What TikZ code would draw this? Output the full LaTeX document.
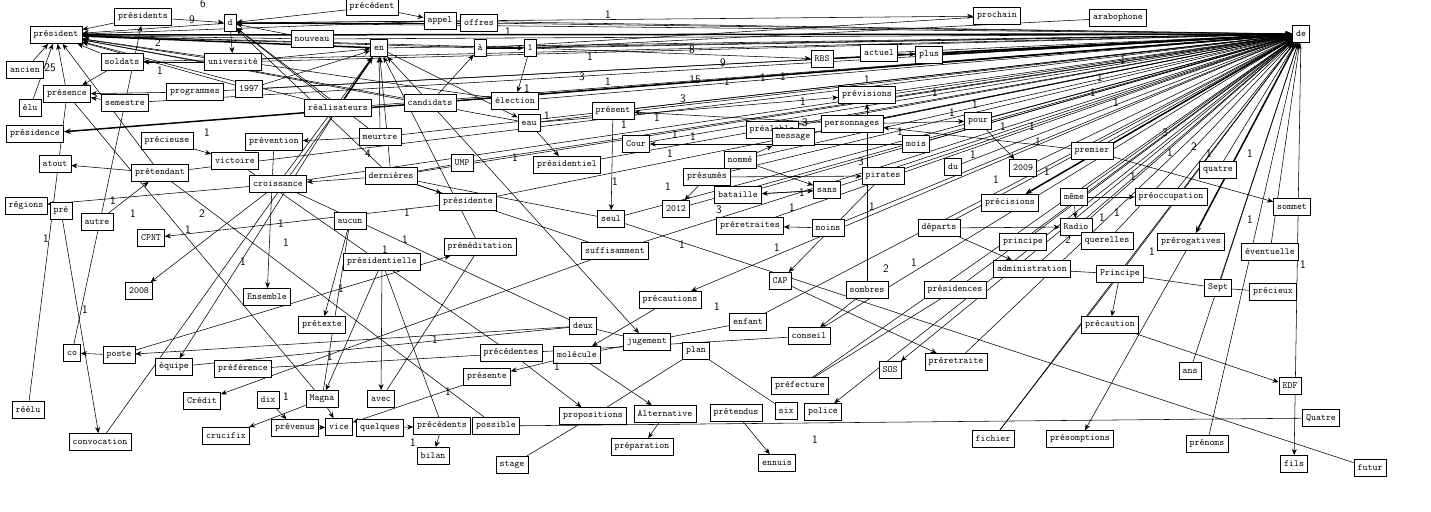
\documentclass[tikz,border=0pt]{standalone}
\usepackage{fontspec}
\usepackage{tikz}
\usetikzlibrary{arrows.meta,backgrounds}
\tikzset{
  w/.style={draw,line width=0.8pt,fill=white,font=\ttfamily\fontsize{9.5}{10}\selectfont,inner xsep=3.5pt,inner ysep=0pt,minimum height=17pt},
  ar/.style={-{Stealth[length=6pt,width=5pt]},line width=0.55pt},
  ln/.style={line width=0.55pt},
  bd/.style={-{Stealth[length=7pt,width=5.5pt]},line width=1.5pt},
  lab/.style={font=\sffamily\fontsize{11.5}{12}\selectfont,inner sep=0pt}
}
\begin{document}
\begin{tikzpicture}[x=1pt,y=-1pt]
\useasboundingbox (0,0) rectangle (1431,511);
% words, top rows
\node[w] (presidents) at (143,17) {présidents};
\node[w] (d) at (230,23) {d};
\node[w] (president) at (56,35) {président};
\node[w] (precedent) at (372,7) {précédent};
\node[w] (appel) at (440,21) {appel};
\node[w] (offres) at (479,23) {offres};
\node[w] (nouveau) at (312,39) {nouveau};
\node[w] (en) at (379,48) {en};
\node[w] (a) at (480,48) {à};
\node[w] (un) at (530,48) {1};
\node[w] (prochain) at (997,16) {prochain};
\node[w] (arabophone) at (1118,18) {arabophone};
\node[w] (de) at (1301,34) {de};
\node[w] (RBS) at (822,59) {RBS};
\node[w] (actuel) at (879,53) {actuel};
\node[w] (plus) at (929,55) {plus};
\node[w] (soldats) at (122,62) {soldats};
\node[w] (universite) at (233,62) {université};
\node[w] (ancien) at (25,70) {ancien};
\node[w] (presence) at (67,94) {présence};
\node[w] (programmes) at (195,92) {programmes};
\node[w] (n1997) at (249,89) {1997};
\node[w] (semestre) at (125,103) {semestre};
\node[w] (elu) at (30,108) {élu};
\node[w] (realisateurs) at (338,108) {réalisateurs};
\node[w] (candidats) at (430,103) {candidats};
\node[w] (election) at (515,101) {élection};
\node[w] (eau) at (529,123) {eau};
\node[w] (present) at (613,111) {présent};
\node[w] (previsions) at (867,95) {prévisions};
\node[w] (personnages) at (852,124) {personnages};
\node[w] (pour) at (978,121) {pour};
% middle rows
\node[w] (presidence) at (35,134) {présidence};
\node[w] (precieuse) at (167,141) {précieuse};
\node[w] (prevention) at (274,142) {prévention};
\node[w] (meurtre) at (380,137) {meurtre};
\node[w] (prealable) at (772,130) {préalable};
\node[w] (message) at (793,137) {message};
\node[w] (Cour) at (636,144) {Cour};
\node[w] (mois) at (916,144) {mois};
\node[w] (premier) at (1092,151) {premier};
\node[w] (victoire) at (235,161) {victoire};
\node[w] (atout) at (55,164) {atout};
\node[w] (UMP) at (462,163) {UMP};
\node[w] (presidentiel) at (567,165) {présidentiel};
\node[w] (nomme) at (740,160) {nommé};
\node[w] (du) at (953,167) {du};
\node[w] (n2009) at (1023,168) {2009};
\node[w] (quatre) at (1218,170) {quatre};
\node[w] (pretendant) at (160,173) {prétendant};
\node[w] (dernieres) at (391,176) {dernières};
\node[w] (croissance) at (278,184) {croissance};
\node[w] (presumes) at (707,177) {présumés};
\node[w] (pirates) at (883,176) {pirates};
\node[w] (sans) at (827,190) {sans};
\node[w] (bataille) at (738,195) {bataille};
\node[w] (meme) at (1074,197) {même};
\node[w] (preoccupation) at (1171,197) {préoccupation};
\node[w] (regions) at (26,206) {régions};
\node[w] (pre) at (61,211) {pré};
\node[w] (presidente) at (468,202) {présidente};
\node[w] (n2012) at (676,209) {2012};
\node[w] (precisions) at (1010,203) {précisions};
\node[w] (sommet) at (1292,207) {sommet};
\node[w] (seul) at (611,219) {seul};
\node[w] (autre) at (97,222) {autre};
\node[w] (aucun) at (350,221) {aucun};
\node[w] (preretraites) at (750,226) {préretraites};
\node[w] (moins) at (828,228) {moins};
\node[w] (departs) at (939,228) {départs};
\node[w] (Radio) at (1076,227) {Radio};
\node[w] (CPNT) at (151,238) {CPNT};
\node[w] (querelles) at (1107,241) {querelles};
\node[w] (principe) at (1023,242) {principe};
\node[w] (prerogatives) at (1191,242) {prérogatives};
\node[w] (premeditation) at (480,247) {préméditation};
\node[w] (suffisamment) at (615,251) {suffisamment};
\node[w] (eventuelle) at (1270,252) {éventuelle};
\node[w] (presidentielle) at (382,262) {présidentielle};
\node[w] (administration) at (1032,269) {administration};
\node[w] (Principe) at (1120,274) {Principe};
\node[w] (CAP) at (780,281) {CAP};
\node[w] (sombres) at (867,290) {sombres};
\node[w] (presidences) at (955,290) {présidences};
\node[w] (Sept) at (1218,288) {Sept};
\node[w] (precieux) at (1273,292) {précieux};
\node[w] (n2008) at (139,291) {2008};
\node[w] (Ensemble) at (267,297) {Ensemble};
\node[w] (precautions) at (670,300) {précautions};
% lower rows
\node[w] (enfant) at (748,322) {enfant};
\node[w] (pretexte) at (322,325) {prétexte};
\node[w] (deux) at (583,326) {deux};
\node[w] (precaution) at (1110,325) {précaution};
\node[w] (conseil) at (809,336) {conseil};
\node[w] (jugement) at (647,342) {jugement};
\node[w] (plan) at (696,351) {plan};
\node[w] (co) at (72,353) {co};
\node[w] (poste) at (119,355) {poste};
\node[w] (precedentes) at (511,353) {précédentes};
\node[w] (molecule) at (577,355) {molécule};
\node[w] (equipe) at (174,367) {équipe};
\node[w] (preference) at (243,369) {préférence};
\node[w] (SOS) at (890,370) {SOS};
\node[w] (preretraite) at (956,362) {préretraite};
\node[w] (ans) at (1190,371) {ans};
\node[w] (presente) at (487,377) {présente};
\node[w] (prefecture) at (800,386) {préfecture};
\node[w] (EDF) at (1290,386) {EDF};
\node[w] (Credit) at (202,401) {Crédit};
\node[w] (dix) at (268,400) {dix};
\node[w] (Magna) at (322,399) {Magna};
\node[w] (avec) at (381,399) {avec};
\node[w] (reelu) at (28,410) {réélu};
\node[w] (prevenus) at (295,428) {prévenus};
\node[w] (vice) at (339,427) {vice};
\node[w] (quelques) at (380,428) {quelques};
\node[w] (precedents) at (442,426) {précédents};
\node[w] (possible) at (496,426) {possible};
\node[w] (propositions) at (593,416) {propositions};
\node[w] (Alternative) at (665,414) {Alternative};
\node[w] (pretendus) at (736,413) {prétendus};
\node[w] (six) at (786,411) {six};
\node[w] (police) at (823,412) {police};
\node[w] (Quatre) at (1321,418) {Quatre};
\node[w] (crucifix) at (226,436) {crucifix};
\node[w] (convocation) at (100,442) {convocation};
\node[w] (fichier) at (993,439) {fichier};
\node[w] (presomptions) at (1080,439) {présomptions};
\node[w] (prenoms) at (1207,444) {prénoms};
\node[w] (preparation) at (642,447) {préparation};
\node[w] (bilan) at (433,456) {bilan};
\node[w] (fils) at (1294,464) {fils};
\node[w] (ennuis) at (777,463) {ennuis};
\node[w] (stage) at (512,465) {stage};
\node[w] (futur) at (1370,468) {futur};

\begin{scope}[on background layer]
\fill[white] (0,0) rectangle (1431,511);
% fan into de
\foreach \s in {d,nouveau,en,a,un,appel,offres,actuel,universite,soldats,programmes,n1997,
  realisateurs,candidats,election,eau,present,previsions,personnages,pour,message,Cour,mois,
  nomme,du,n2009,premier,presumes,pirates,sans,bataille,presidentiel,seul,meme,preoccupation,
  quatre,Radio,querelles,principe,departs,preretraites,moins,administration,Principe,Sept,
  presidences,preretraite,fichier,prenoms,ans,prealable,suffisamment,enfant,conseil,prefecture,
  n2012,pretendant,croissance,dernieres,meurtre,UMP,presidente,semestre,eventuelle}
  \draw[ar] (\s) -- (de);
\draw[bd] (president) -- (de);
\draw[bd] (RBS) -- (de);
\draw[bd] (plus) -- (de);
\foreach \t in {precisions,prerogatives,presidence}
  \draw[bd] (de) -- (\t);
\foreach \t in {fils,SOS,police,precautions}
  \draw[ar] (de) -- (\t);
% into président
\foreach \s in {d,presidents,soldats,universite,nouveau,n1997,candidats,realisateurs,election,
  ancien,elu,presence,pretendant,a,un,appel,eau}
  \draw[ar] (\s) -- (president);
\draw[bd] (en) -- (president);
% into en and d
\foreach \s in {candidats,meurtre,dernieres,n1997,universite,premeditation,croissance}
  \draw[ar] (\s) -- (en);
\draw[bd] (realisateurs) -- (en);
\foreach \s in {presidents,precedent,appel,offres,nouveau,meurtre,dernieres,realisateurs}
  \draw[ar] (\s) -- (d);
% the other arrows
\foreach \s/\t in {d/universite,universite/soldats,semestre/presidents,programmes/presence,
  semestre/presence,soldats/presence,precedent/appel,a/un,un/election,candidats/a,
  eau/presidentiel,present/seul,mois/Cour,personnages/present,presumes/n2012,un/RBS,
  actuel/plus,eau/previsions,sombres/previsions,premier/personnages,nomme/message,
  presumes/pirates,bataille/sans,nomme/sans,sans/bataille,moins/preretraites,
  personnages/pour,pour/n2009,meme/preoccupation,meme/Radio,departs/Radio,premier/sommet,
  departs/administration,Principe/precaution,CAP/preretraite,pirates/CAP,sombres/conseil,
  pretendus/ennuis,precaution/EDF,realisateurs/equipe,pre/convocation,poste/co,deux/poste,
  poste/premeditation,croissance/n2008,suffisamment/Credit,prevention/Ensemble,aucun/pretexte,
  presidentielle/Magna,presidentielle/avec,dix/prevenus,prevenus/vice,Magna/vice,
  presente/vice,quelques/precedents,precedents/bilan,Magna/crucifix,molecule/presente,
  precedentes/propositions,molecule/Alternative,precautions/molecule,candidats/jugement,
  Alternative/preparation,prerogatives/presomptions,pretendant/atout,croissance/regions,
  autre/pretendant,presidente/CPNT,precieuse/victoire,dernieres/croissance,
  meurtre/prevention,dernieres/presidente,en/eau,d/prochain}
  \draw[ar] (\s) -- (\t);
% plain lines
\foreach \s/\t in {Principe/administration,Principe/Sept,Sept/precieux,realisateurs/convocation,
  presence/Magna,semestre/co,propositions/stage,plan/propositions,possible/Quatre,seul/futur,
  plan/six,a/prochain,un/arabophone,dernieres/seul,dernieres/suffisamment,croissance/deux,
  pretendant/possible,UMP/dernieres,presidentielle/precedents,reelu/presence,deux/equipe,
  victoire/precedentes,aucun/Magna,avec/premeditation,deux/jugement,enfant/molecule,
  conseil/preference,presidences/prefecture,Principe/fichier}
  \draw[ln] (\s) -- (\t);
\end{scope}
% weights
\foreach \x/\y/\t [count=\i] in {203/4/6,192/20/9,158/43/2,160/71/1,50/68/25,207/133/1,
  113/201/1,133/214/1,202/214/2,188/230/1,46/239/1,368/154/4,281/224/1,286/243/1,407/213/1,
  405/240/1,385/250/1,608/15/1,508/32/1,590/57/1,692/50/8,582/77/3,608/82/1,695/80/15,
  683/99/3,527/89/1,547/116/1,624/125/1,657/118/1,675/135/1,693/137/1,670/154/1,515/158/1,
  615/182/1,668/187/1,682/245/1,723/63/9,805/123/3,861/162/3,792/208/1,719/210/3,777/248/1,
  900/132/1,935/93/1,952/113/1,975/105/1,1102/218/1,1117/213/1,1068/240/2,1152/252/1,
  1194/147/2,1209/154/1,1250/154/1,1250/220/1,85/310/1,341/289/1,435/340/1,330/357/1,
  286/397/1,448/392/1,413/443/1,243/262/1,557/367/1,886/269/2,914/263/1,717/307/1,815/440/1,
  1303/265/1,727/82/1,763/78/1,783/77/1,867/80/1,803/102/1,872/207/1,802/193/1,1003/127/1,
  1032/127/1,1038/142/1,973/155/1,996/180/1,1047/172/1,1133/177/1,1170/153/1,1165/133/3,
  1093/93/1,1116/103/1,1100/78/1,1123/60/1}
  \node[lab] (w\i) at (\x,\y) {\t};
\end{tikzpicture}
\end{document}
